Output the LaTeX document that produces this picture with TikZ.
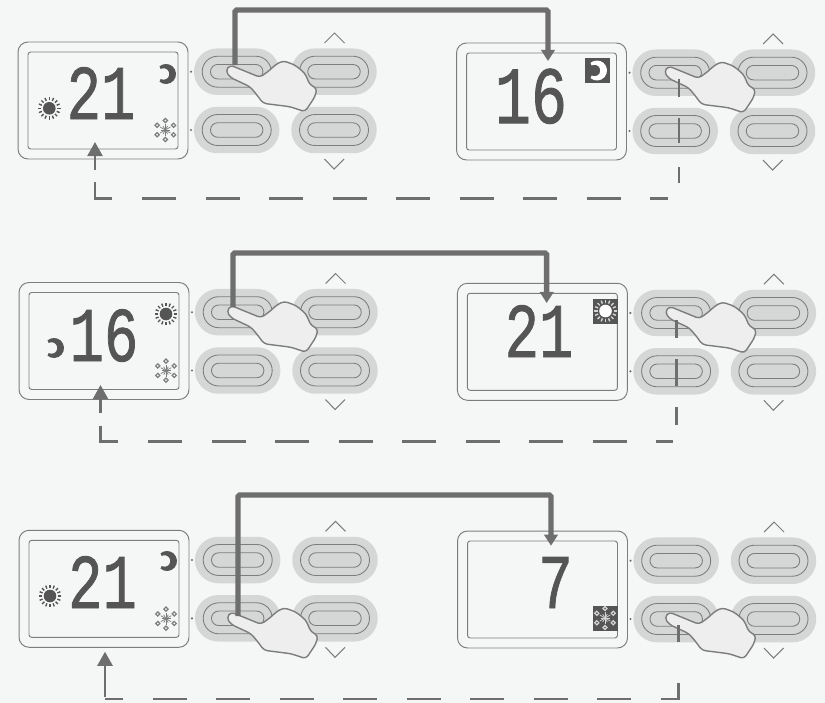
\documentclass[tikz,border=0pt]{standalone}
\usepackage{fontspec}
\usepackage{xcolor}
\usepackage{tikz}
\usetikzlibrary{arrows.meta, positioning}
\newfontfamily\lcdfont[FakeBold=1.25]{Liberation Mono}
\definecolor{pagebg}{RGB}{245, 247, 246}
\definecolor{pilldark}{RGB}{213, 215, 214}
\definecolor{edgegrey}{RGB}{125, 125, 125}
\definecolor{linkgrey}{RGB}{110, 110, 110}
\definecolor{lcdink}{RGB}{85, 85, 85}
\definecolor{handfill}{RGB}{238, 238, 238}

% one thermostat: case, screen, four buttons, two chevrons
\newcommand{\panel}[3]{
  \begin{scope}[shift={(#2,#3)}]
    \node[casebox] (#1case) at (103,100.5) {};
    \node[lcdbox] (#1lcd) at (103,100.5) {};
    \foreach \nam/\bx/\by in {a/236.7/71.7, b/334/71.7, c/236.7/130, d/334/130} {
      \node[pillbase] (#1\nam) at (\bx,\by) {};
      \node[pillring] (#1\nam r) at (\bx,\by) {};
      \node[pillcore] (#1\nam c) at (\bx,\by) {};
    }
    \fill[linkgrey] (191,71.7) circle (1.2);
    \fill[linkgrey] (191,130) circle (1.2);
    \draw[chevron] (324.5,43) -- (334.5,33) -- (344.5,43);
    \draw[chevron] (324.5,159) -- (334,169) -- (344,159);
  \end{scope}
}
\newcommand{\handat}[2]{
  \begin{scope}[shift={(#1,#2)}]
    \draw[handline] (225.7,70.7) -- (230,65) -- (260,77.3) -- (270,70) -- (275,65) -- (283,60.7)
      -- (295,65) -- (305,73.3) -- (310,85) -- (317,88.3) -- (315,96.7) -- (305,111.7)
      -- (290,106.7) -- (263,103.3) -- (257,95) -- (250,86.7) -- (230,77.3) -- cycle;
  \end{scope}
}
% icons: x, y, colour
\newcommand{\moonicon}[3]{
  \fill[#3] (#1,#2) ++(130:10) arc[start angle=130,end angle=-130,radius=10]
    -- (#1-5.4,#2-5.02) arc[start angle=-120,end angle=120,radius=5.8] -- cycle;
}
\newcommand{\sunicon}[4]{
  \fill[#3] (#1,#2) circle (6.3);
  \foreach \ang in {0,22.5,...,337.5} {
    \draw[#4, line width=0.8pt] (#1,#2) ++(\ang:8) -- ++(\ang:3.2);
  }
}
\newcommand{\snowicon}[3]{
  \foreach \ang in {30,90,...,330} {
    \draw[#3, line width=0.4pt] (#1,#2) -- ++(\ang:6);
    \draw[#3, line width=0.7pt] (#1,#2) ++(\ang:9.5) ++(-2.1,0) -- ++(2.1,-2.1) -- ++(2.1,2.1) -- ++(-2.1,2.1) -- cycle;
  }
  \foreach \ang in {0,60,...,300} {
    \draw[#3, line width=0.4pt] (#1,#2) -- ++(\ang:4.5);
  }
}

\begin{document}
\begin{tikzpicture}[
  x=0.02cm, y=-0.02cm,
  casebox/.style={draw=edgegrey, line width=0.55pt, rounded corners=0.2cm,
    minimum width=3.4cm, minimum height=2.34cm, inner sep=0pt},
  lcdbox/.style={draw=edgegrey, line width=0.55pt, rounded corners=1.5pt,
    minimum width=3cm, minimum height=1.94cm, inner sep=0pt},
  pillbase/.style={fill=pilldark, rounded corners=0.465cm,
    minimum width=1.71cm, minimum height=0.93cm, inner sep=0pt},
  pillring/.style={draw=edgegrey, line width=0.5pt, rounded corners=0.31cm,
    minimum width=1.38cm, minimum height=0.62cm, inner sep=0pt},
  pillcore/.style={draw=edgegrey, line width=0.5pt, rounded corners=0.145cm,
    minimum width=1.05cm, minimum height=0.29cm, inner sep=0pt},
  chevron/.style={draw=edgegrey, line width=0.6pt},
  handline/.style={draw=edgegrey, fill=handfill, line width=0.8pt, rounded corners=2pt},
  digits/.style={font=\lcdfont\fontsize{44}{44}\selectfont, text=lcdink, xscale=0.74,
    anchor=base, inner sep=0pt},
  iconbox/.style={fill=lcdink, minimum size=0.5cm, inner sep=0pt},
  pressline/.style={-{Triangle[length=6.3pt,width=7.6pt]}, draw=linkgrey, line width=3.1pt,
    rounded corners=1pt},
  backdash/.style={draw=linkgrey, line width=1.5pt, dash pattern=on 19.35pt off 16.8pt},
  backarrow/.style={-{Triangle[length=8pt,width=8.5pt]}, draw=linkgrey, line width=1.5pt}
]
  \fill[pagebg] (0,0) rectangle (825,703);
  \useasboundingbox (0,0) rectangle (825,703);

  % top row
  \panel{pa}{0}{0}
  \panel{pb}{438.5}{1}
  \node[digits] (ta) at (101,119) {21};
  \node[digits, scale=1.05] (tb) at (531,123) {16};
  \sunicon{49.3}{108.3}{lcdink}{lcdink}
  \moonicon{166}{74}{lcdink}
  \snowicon{165.3}{130}{edgegrey}
  \node[iconbox] (ka) at (597.5,70.5) {};
  \moonicon{597}{70.5}{white}
  \handat{0}{0}
  \handat{438.5}{1}
  \coordinate (pressa) at (235,65);
  \coordinate (shownb) at (548,61);
  \draw[pressline] (pressa) -- ++(0,-55) -| (shownb);
  \coordinate (rela) at (679,79);
  \coordinate (rulea) at (679,183);
  \draw[draw=linkgrey, line width=1.5pt, dash pattern=on 10.2pt off 12pt on 14.2pt off 13.7pt on 9.1pt off 60pt] (rela) -- (rulea);
  \coordinate (cornera) at (95,182);
  \coordinate (enda) at (668,198.5);
  \draw[backdash] (cornera) |- (enda);
  \coordinate (stema) at (95,170);
  \coordinate (tipa) at (95,142);
  \draw[backarrow] (stema) -- (tipa);

  % middle row
  \panel{pc}{1}{240.5}
  \panel{pd}{439.4}{241.3}
  \node[digits] (tc) at (104,361) {16};
  \node[digits] (td) at (539,357) {21};
  \moonicon{54}{348}{lcdink}
  \sunicon{166}{314}{lcdink}{lcdink}
  \snowicon{166}{370.7}{edgegrey}
  \node[iconbox] (kd) at (605.5,311) {};
  \sunicon{605.5}{311}{white}{pilldark}
  \handat{1}{240.5}
  \handat{439.4}{241.3}
  \coordinate (pressc) at (233,307);
  \coordinate (shownd) at (546.7,303);
  \draw[pressline] (pressc) -- ++(0,-54) -| (shownd);
  \coordinate (relc) at (676.7,320);
  \coordinate (rulec) at (676.7,425);
  \draw[draw=linkgrey, line width=1.5pt, dash pattern=on 10.2pt off 12pt on 15.2pt off 12.3pt on 10.1pt off 60pt] (relc) -- (rulec);
  \coordinate (cornerc) at (100.5,425.7);
  \coordinate (endc) at (672.7,441.7);
  \draw[backdash] (cornerc) |- (endc);
  \coordinate (stemc) at (100.5,412.7);
  \coordinate (tipc) at (100.5,385);
  \draw[backarrow] (stemc) -- (tipc);

  % bottom row
  \panel{pe}{1}{488.3}
  \panel{pf}{439.5}{489}
  \node[digits] (te) at (102.5,608) {21};
  \node[digits] (tf) at (555.5,608) {7};
  \sunicon{50}{596}{lcdink}{lcdink}
  \moonicon{167}{561}{lcdink}
  \snowicon{166}{618.7}{edgegrey}
  \node[iconbox] (kf) at (605,618) {};
  \snowicon{605}{618}{pilldark}
  \handat{1}{547}
  \handat{439}{547}
  \coordinate (presse) at (238,616);
  \coordinate (shownf) at (551,545.7);
  \draw[pressline] (presse) -- ++(0,-121) -| (shownf);
  \coordinate (rele) at (678.5,625);
  \coordinate (rulee) at (678.5,642);
  \draw[draw=linkgrey, line width=1.5pt] (rele) -- (rulee);
  \coordinate (cornere) at (105,699);
  \coordinate (ende) at (678.5,682);
  \draw[backdash, dash phase=9.1pt] (cornere) -| (ende);
  \coordinate (steme) at (105,697);
  \coordinate (tipe) at (105,651.7);
  \draw[backarrow] (steme) -- (tipe);
\end{tikzpicture}
\end{document}
